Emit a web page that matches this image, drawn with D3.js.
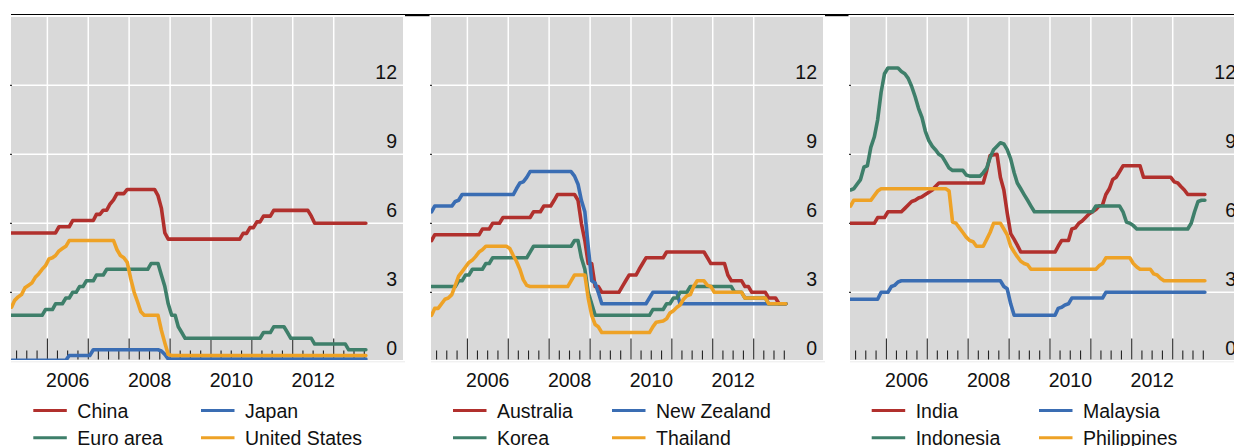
<!DOCTYPE html>
<html>
<head>
<meta charset="utf-8">
<script src="https://cdn.jsdelivr.net/npm/d3@7"></script>
<style>
  html, body { margin: 0; padding: 0; background: #fff; }
  svg { display: block; }
  text { font-family: "Liberation Sans", Arial, Helvetica, sans-serif; fill: #111; }
</style>
</head>
<body>
<svg id="chart" width="1234" height="446"></svg>
<script>
// Policy rates, per cent; [month, value] knots joined by straight lines.
const yTickValues = [0, 3, 6, 9, 12];
const yearLabels = [2006, 2008, 2010, 2012];

const chinaRate = [["2005-02",5.58],["2006-03",5.58],["2006-04",5.85],["2006-07",5.85],["2006-08",6.12],["2007-02",6.12],["2007-03",6.39],["2007-04",6.39],["2007-05",6.57],["2007-06",6.57],["2007-07",6.84],["2007-08",7.02],["2007-09",7.29],["2007-11",7.29],["2007-12",7.47],["2008-08",7.47],["2008-09",7.2],["2008-10",6.66],["2008-11",5.58],["2008-12",5.31],["2010-09",5.31],["2010-10",5.56],["2010-11",5.56],["2010-12",5.81],["2011-01",5.81],["2011-02",6.06],["2011-03",6.06],["2011-04",6.31],["2011-06",6.31],["2011-07",6.56],["2012-05",6.56],["2012-06",6.31],["2012-07",6.0],["2013-10",6.0]];
const japanRate = [["2005-02",0.04],["2006-06",0.04],["2006-07",0.25],["2007-01",0.25],["2007-02",0.5],["2008-09",0.5],["2008-10",0.45],["2008-11",0.3],["2008-12",0.1],["2013-10",0.1]];
const euroRate = [["2005-02",2.0],["2005-11",2.0],["2005-12",2.25],["2006-02",2.25],["2006-03",2.5],["2006-05",2.5],["2006-06",2.75],["2006-07",2.75],["2006-08",3.0],["2006-09",3.0],["2006-10",3.25],["2006-11",3.25],["2006-12",3.5],["2007-02",3.5],["2007-03",3.75],["2007-05",3.75],["2007-06",4.0],["2008-06",4.0],["2008-07",4.25],["2008-09",4.25],["2008-10",3.75],["2008-11",3.25],["2008-12",2.5],["2009-01",2.0],["2009-02",2.0],["2009-03",1.5],["2009-04",1.25],["2009-05",1.0],["2011-03",1.0],["2011-04",1.25],["2011-06",1.25],["2011-07",1.5],["2011-10",1.5],["2011-11",1.25],["2011-12",1.0],["2012-06",1.0],["2012-07",0.75],["2013-04",0.75],["2013-05",0.5],["2013-10",0.5]];
const usRate = [["2005-02",2.35],["2005-03",2.65],["2005-04",2.8],["2005-05",2.9],["2005-06",3.2],["2005-07",3.3],["2005-08",3.4],["2005-09",3.65],["2005-10",3.8],["2005-11",4.0],["2005-12",4.15],["2006-01",4.45],["2006-02",4.5],["2006-03",4.6],["2006-04",4.8],["2006-05",4.9],["2006-06",5.0],["2006-07",5.25],["2007-08",5.25],["2007-09",4.85],["2007-10",4.6],["2007-11",4.5],["2007-12",4.3],["2008-01",3.6],["2008-02",3.0],["2008-03",2.6],["2008-04",2.15],["2008-05",2.0],["2008-09",2.0],["2008-10",1.35],["2008-11",0.8],["2008-12",0.3],["2009-01",0.25],["2013-10",0.25]];

const australiaRate = [["2005-02",5.25],["2005-03",5.5],["2006-04",5.5],["2006-05",5.75],["2006-07",5.75],["2006-08",6.0],["2006-10",6.0],["2006-11",6.25],["2007-07",6.25],["2007-08",6.5],["2007-10",6.5],["2007-11",6.75],["2008-01",6.75],["2008-02",7.0],["2008-03",7.25],["2008-08",7.25],["2008-09",7.0],["2008-10",6.0],["2008-11",5.25],["2008-12",4.25],["2009-01",4.25],["2009-02",3.25],["2009-03",3.25],["2009-04",3.0],["2009-09",3.0],["2009-10",3.25],["2009-11",3.5],["2009-12",3.75],["2010-02",3.75],["2010-03",4.0],["2010-04",4.25],["2010-05",4.5],["2010-10",4.5],["2010-11",4.75],["2011-10",4.75],["2011-11",4.5],["2011-12",4.25],["2012-04",4.25],["2012-05",3.75],["2012-06",3.5],["2012-09",3.5],["2012-10",3.25],["2012-11",3.25],["2012-12",3.0],["2013-04",3.0],["2013-05",2.75],["2013-07",2.75],["2013-08",2.5],["2013-10",2.5]];
const newZealandRate = [["2005-02",6.5],["2005-03",6.75],["2005-08",6.75],["2005-09",6.95],["2005-10",7.0],["2005-11",7.25],["2007-02",7.25],["2007-03",7.5],["2007-04",7.75],["2007-05",7.8],["2007-06",8.0],["2007-07",8.25],["2008-07",8.25],["2008-08",8.05],["2008-09",7.7],["2008-10",7.0],["2008-11",6.5],["2008-12",5.0],["2009-01",3.5],["2009-02",3.4],["2009-03",3.0],["2009-04",2.5],["2010-05",2.5],["2010-06",2.75],["2010-07",3.0],["2011-02",3.0],["2011-03",2.5],["2013-10",2.5]];
const koreaRate = [["2005-02",3.25],["2005-09",3.25],["2005-10",3.5],["2005-11",3.5],["2005-12",3.75],["2006-01",3.75],["2006-02",4.0],["2006-05",4.0],["2006-06",4.25],["2006-07",4.25],["2006-08",4.5],["2007-06",4.5],["2007-07",4.75],["2007-08",5.0],["2008-07",5.0],["2008-08",5.25],["2008-09",5.25],["2008-10",4.5],["2008-11",4.0],["2008-12",3.0],["2009-01",2.5],["2009-02",2.0],["2010-06",2.0],["2010-07",2.25],["2010-10",2.25],["2010-11",2.5],["2010-12",2.5],["2011-01",2.75],["2011-02",2.75],["2011-03",3.0],["2011-05",3.0],["2011-06",3.25],["2012-06",3.25],["2012-07",3.0],["2012-09",3.0],["2012-10",2.75],["2013-04",2.75],["2013-05",2.5],["2013-10",2.5]];
const thailandRate = [["2005-02",2.0],["2005-03",2.3],["2005-04",2.3],["2005-06",2.7],["2005-07",2.75],["2005-08",2.9],["2005-09",3.3],["2005-10",3.7],["2005-11",3.9],["2005-12",4.1],["2006-01",4.3],["2006-02",4.4],["2006-03",4.55],["2006-04",4.75],["2006-05",4.85],["2006-06",5.0],["2006-12",5.0],["2007-01",4.9],["2007-02",4.6],["2007-03",4.35],["2007-04",4.0],["2007-05",3.55],["2007-06",3.3],["2007-07",3.25],["2008-06",3.25],["2008-07",3.5],["2008-08",3.75],["2008-11",3.75],["2008-12",2.75],["2009-01",2.0],["2009-02",1.6],["2009-03",1.5],["2009-04",1.25],["2010-06",1.25],["2010-07",1.5],["2010-08",1.7],["2010-10",1.75],["2010-11",1.85],["2010-12",2.1],["2011-01",2.2],["2011-02",2.35],["2011-03",2.45],["2011-04",2.7],["2011-05",2.85],["2011-06",2.9],["2011-07",3.25],["2011-08",3.5],["2011-10",3.5],["2011-11",3.3],["2011-12",3.25],["2012-01",3.0],["2012-09",3.0],["2012-10",2.75],["2013-04",2.75],["2013-05",2.5],["2013-10",2.5]];

const indiaRate = [["2005-02",6.0],["2005-09",6.0],["2005-10",6.25],["2005-12",6.25],["2006-01",6.5],["2006-05",6.5],["2006-06",6.65],["2006-07",6.8],["2006-08",6.95],["2006-09",7.0],["2006-10",7.1],["2006-11",7.15],["2006-12",7.25],["2007-01",7.35],["2007-02",7.45],["2007-03",7.6],["2007-04",7.75],["2008-05",7.75],["2008-06",8.3],["2008-07",8.95],["2008-09",9.0],["2008-10",8.0],["2008-11",7.45],["2008-12",6.45],["2009-01",5.55],["2009-02",5.3],["2009-03",5.05],["2009-04",4.75],["2010-02",4.75],["2010-03",5.0],["2010-04",5.25],["2010-06",5.25],["2010-07",5.75],["2010-08",5.8],["2010-09",6.0],["2010-10",6.1],["2010-11",6.25],["2010-12",6.4],["2011-01",6.5],["2011-02",6.6],["2011-03",6.75],["2011-04",6.8],["2011-05",7.25],["2011-06",7.5],["2011-07",7.9],["2011-08",8.0],["2011-09",8.25],["2011-10",8.5],["2012-03",8.5],["2012-04",8.0],["2012-12",8.0],["2013-01",7.8],["2013-02",7.75],["2013-03",7.6],["2013-04",7.45],["2013-05",7.25],["2013-10",7.25]];
const malaysiaRate = [["2005-02",2.7],["2005-10",2.7],["2005-11",3.0],["2006-01",3.0],["2006-02",3.25],["2006-03",3.3],["2006-04",3.45],["2006-05",3.5],["2008-10",3.5],["2008-11",3.25],["2008-12",3.15],["2009-01",2.5],["2009-02",2.0],["2010-02",2.0],["2010-03",2.3],["2010-04",2.35],["2010-05",2.45],["2010-06",2.5],["2010-07",2.75],["2011-04",2.75],["2011-05",3.0],["2013-10",3.0]];
const indonesiaRate = [["2005-02",7.45],["2005-03",7.5],["2005-04",7.7],["2005-05",7.9],["2005-06",8.45],["2005-07",8.5],["2005-08",9.3],["2005-09",9.75],["2005-10",10.5],["2005-11",11.7],["2005-12",12.5],["2006-01",12.75],["2006-04",12.75],["2006-05",12.6],["2006-06",12.5],["2006-07",12.3],["2006-08",11.95],["2006-09",11.5],["2006-10",11.0],["2006-11",10.6],["2006-12",10.0],["2007-01",9.6],["2007-02",9.35],["2007-03",9.2],["2007-04",9.0],["2007-05",8.9],["2007-06",8.65],["2007-07",8.4],["2007-08",8.3],["2007-11",8.3],["2007-12",8.1],["2008-01",8.05],["2008-04",8.05],["2008-05",8.2],["2008-06",8.4],["2008-07",8.85],["2008-08",9.2],["2008-09",9.35],["2008-10",9.5],["2008-11",9.45],["2008-12",9.2],["2009-01",8.8],["2009-02",8.2],["2009-03",7.75],["2009-04",7.5],["2009-05",7.25],["2009-06",7.0],["2009-07",6.75],["2009-08",6.5],["2011-01",6.5],["2011-02",6.75],["2011-09",6.75],["2011-10",6.5],["2011-11",6.05],["2011-12",6.0],["2012-01",5.9],["2012-02",5.75],["2013-05",5.75],["2013-06",6.0],["2013-07",6.5],["2013-08",6.95],["2013-09",7.0],["2013-10",7.0]];
const philippinesRate = [["2005-02",6.75],["2005-03",7.0],["2005-08",7.0],["2005-09",7.2],["2005-10",7.4],["2005-11",7.5],["2007-06",7.5],["2007-07",7.4],["2007-08",6.05],["2007-09",6.0],["2007-10",5.8],["2007-11",5.6],["2007-12",5.4],["2008-01",5.25],["2008-02",5.2],["2008-03",5.0],["2008-05",5.0],["2008-06",5.3],["2008-07",5.6],["2008-08",6.0],["2008-10",6.0],["2008-11",5.75],["2008-12",5.5],["2009-01",5.0],["2009-02",4.75],["2009-03",4.55],["2009-04",4.35],["2009-05",4.25],["2009-06",4.2],["2009-07",4.0],["2011-02",4.0],["2011-03",4.15],["2011-04",4.25],["2011-05",4.5],["2011-12",4.5],["2012-01",4.25],["2012-02",4.1],["2012-03",4.0],["2012-06",4.0],["2012-07",3.8],["2012-08",3.75],["2012-09",3.6],["2012-10",3.5],["2013-10",3.5]];

const RED = "#b1302d", BLUE = "#3a6db3", GREEN = "#3e7f6a", ORANGE = "#eea226";

const panels = [
  { offset: 0, legendX: [33.3, 201], series: [
    { name: "China", color: RED, data: chinaRate },
    { name: "Japan", color: BLUE, data: japanRate },
    { name: "Euro area", color: GREEN, data: euroRate },
    { name: "United States", color: ORANGE, data: usRate } ] },
  { offset: 420, legendX: [33, 192], series: [
    { name: "Australia", color: RED, data: australiaRate },
    { name: "New Zealand", color: BLUE, data: newZealandRate },
    { name: "Korea", color: GREEN, data: koreaRate },
    { name: "Thailand", color: ORANGE, data: thailandRate } ] },
  { offset: 839, legendX: [32.7, 200], series: [
    { name: "India", color: RED, data: indiaRate },
    { name: "Malaysia", color: BLUE, data: malaysiaRate },
    { name: "Indonesia", color: GREEN, data: indonesiaRate },
    { name: "Philippines", color: ORANGE, data: philippinesRate } ] }
];

// Layout
const plot = { left: 11, right: 403, top: 17, bottom: 360 };
const FONT = 19.5;
const parseMonth = d3.timeParse("%Y-%m");
const monthMid = s => { const d = parseMonth(s); return new Date(d.getFullYear(), d.getMonth(), 15); };

const x = d3.scaleTime().domain([new Date(2005, 0, 1), new Date(2014, 0, 1)]).range([6.5, 374.6]);
const y = d3.scaleLinear().domain([0, 15]).range([361.3, 16.3]);

const svg = d3.select("#chart");

// Thin rule across the top, heavier in the gaps between panels
svg.append("line").attr("x1", 11).attr("x2", 1234).attr("y1", 14.5).attr("y2", 14.5)
  .attr("stroke", "#000").attr("stroke-width", 1.2);
[[405, 429.5], [825, 848.5]].forEach(([a, b]) => {
  svg.append("rect").attr("x", a).attr("y", 14).attr("width", b - a).attr("height", 2.2).attr("fill", "#000");
});

const line = d3.line().x(d => x(monthMid(d[0]))).y(d => y(d[1]));

panels.forEach((p, pi) => {
  const g = svg.append("g").attr("transform", `translate(${p.offset},0)`);

  g.append("rect").attr("x", plot.left).attr("y", plot.top)
    .attr("width", plot.right - plot.left).attr("height", plot.bottom - plot.top)
    .attr("fill", "#d9d9d9");

  // faint base line under the plot area
  g.append("line").attr("x1", plot.left).attr("x2", plot.right + 2)
    .attr("y1", 361.8).attr("y2", 361.8).attr("stroke", "#ececec").attr("stroke-width", 1);

  // vertical gridlines at year starts
  const years = d3.timeYear.range(new Date(2006, 0, 1), new Date(2013, 1, 1));
  g.selectAll(".vgrid").data(years).join("line")
    .attr("x1", d => x(d)).attr("x2", d => x(d))
    .attr("y1", plot.top).attr("y2", plot.bottom)
    .attr("stroke", "#fff").attr("stroke-width", 1.5);

  // horizontal gridlines
  const gridVals = yTickValues.filter(v => v > 0);
  g.selectAll(".hgrid").data(gridVals).join("line")
    .attr("x1", plot.left).attr("x2", plot.right)
    .attr("y1", d => y(d)).attr("y2", d => y(d))
    .attr("stroke", "#fff").attr("stroke-width", 1.5);

  // small stubs on the left edge
  g.selectAll(".lstub").data(gridVals).join("line")
    .attr("x1", plot.left - 1).attr("x2", plot.left + 1)
    .attr("y1", d => y(d)).attr("y2", d => y(d))
    .attr("stroke", "#333").attr("stroke-width", 1.2);

  // quarterly ticks along the bottom
  const quarters = d3.timeMonth.every(3).range(new Date(2005, 3, 1), new Date(2013, 9, 2));
  g.selectAll(".qtick").data(quarters).join("line")
    .attr("x1", d => x(d)).attr("x2", d => x(d))
    .attr("y1", d => d.getMonth() === 0 ? 338.5 : 350.5)
    .attr("y2", 359.5)
    .attr("stroke", "#222").attr("stroke-width", 1.1);

  // lines
  const clipId = `clip${pi}`;
  g.append("clipPath").attr("id", clipId).append("rect")
    .attr("x", plot.left).attr("y", plot.top)
    .attr("width", plot.right - plot.left).attr("height", plot.bottom - plot.top);
  const lg = g.append("g").attr("clip-path", `url(#${clipId})`);
  p.series.forEach(s => {
    lg.append("path").datum(s.data).attr("d", line)
      .attr("fill", "none").attr("stroke", s.color)
      .attr("stroke-width", 3.6).attr("stroke-linejoin", "round").attr("stroke-linecap", "round");
  });

  // y labels (right side, above gridlines)
  g.selectAll(".ylab").data(yTickValues).join("text")
    .attr("x", 397).attr("y", d => y(d) - 6.5)
    .attr("text-anchor", "end").attr("font-size", FONT)
    .text(d => d);

  // year labels centred on the year
  g.selectAll(".xlab").data(yearLabels).join("text")
    .attr("x", d => x(new Date(d, 6, 2))).attr("y", 386.5)
    .attr("text-anchor", "middle").attr("font-size", FONT)
    .text(d => d);

  // legend
  const rows = [410.5, 437.7];
  p.series.forEach((s, i) => {
    const lx = p.legendX[i % 2], ly = rows[Math.floor(i / 2)];
    g.append("line").attr("x1", lx).attr("x2", lx + 33.5).attr("y1", ly).attr("y2", ly)
      .attr("stroke", s.color).attr("stroke-width", 3);
    g.append("text").attr("x", lx + 44).attr("y", ly + 7.6)
      .attr("font-size", FONT).text(s.name);
  });
});
</script>
</body>
</html>
